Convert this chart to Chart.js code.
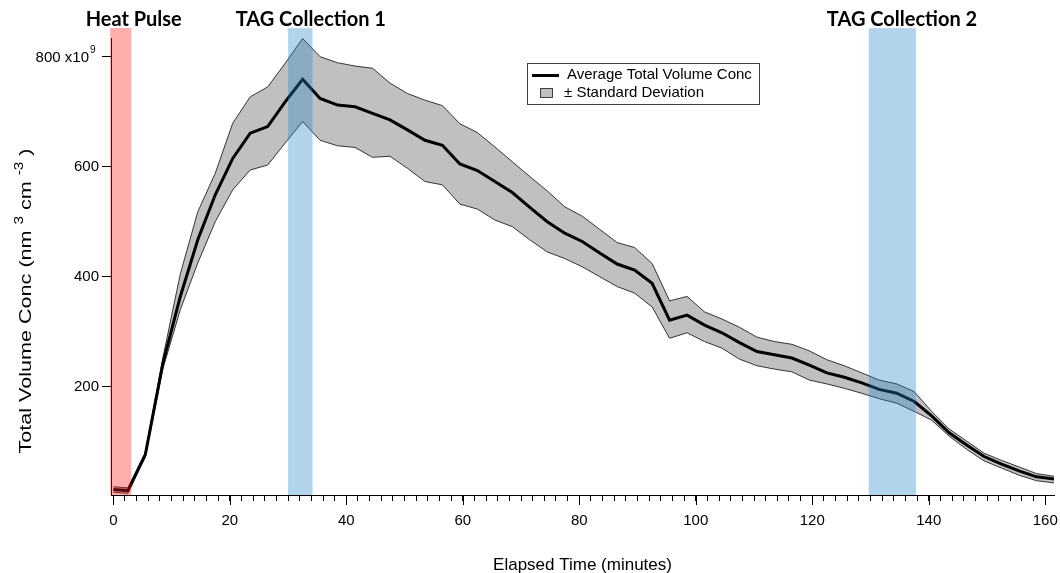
<!DOCTYPE html>
<html>
<head>
<meta charset="utf-8">
<script src="https://cdn.jsdelivr.net/npm/chart.js@4.4.0/dist/chart.umd.min.js"></script>
<style>
    html, body { margin: 0; padding: 0; background: #fff; }
    #chart-wrap { width: 1060px; height: 573px; }
</style>
</head>
<body>
<div id="chart-wrap"><canvas id="volume-chart" width="1060" height="573"></canvas></div>
<script>
// elapsed time of each scan (minutes)
const times = [0, 2.5, 5.5, 8.5, 11.5, 14.5, 17.5, 20.5, 23.5, 26.5, 29.5, 32.5, 35.5, 38.5, 41.5, 44.5, 47.5,
    50.5, 53.5, 56.5, 59.5, 62.5, 65.5, 68.5, 71.5, 74.5, 77.5, 80.5, 83.5, 86.5, 89.5, 92.5, 95.5, 98.5,
    101.5, 104.5, 107.5, 110.5, 113.5, 116.5, 119.5, 122.5, 125.5, 128.5, 131.5, 134.5, 137.5, 140.5,
    143.5, 146.5, 149.5, 152.5, 155.5, 158.5, 161.5];

// total volume conc, x10^9 nm3 cm-3
const meanConc = [13, 11, 77, 242, 364, 467, 549, 615, 661, 673, 718, 759, 724, 712, 709, 697, 685,
    667, 648, 639, 605, 593, 573, 553, 526, 500, 479, 464, 443, 423, 412, 388, 321, 330,
    312, 298, 280, 264, 258, 252, 239, 225, 217, 207, 195, 188, 173, 147,
    116, 94, 73, 59, 47, 36, 32];
const upperConc = [18, 16, 80, 252, 405, 518, 588, 679, 727, 745, 788, 833, 800, 789, 783, 779, 752,
    733, 721, 711, 678, 662, 636, 609, 582, 556, 527, 510, 486, 462, 453, 424, 356, 364,
    336, 323, 308, 290, 282, 277, 265, 249, 238, 225, 212, 205, 191, 155,
    123, 101, 79, 66, 54, 42, 37];
const lowerConc = [8, 6, 72, 232, 340, 425, 500, 558, 594, 603, 643, 682, 648, 638, 635, 617, 619,
    597, 573, 567, 532, 523, 503, 491, 467, 445, 433, 418, 400, 382, 370, 345, 288, 298,
    282, 270, 250, 238, 232, 227, 212, 205, 197, 188, 178, 170, 155, 139,
    110, 86, 65, 52, 39, 29, 25];

const yTickValues = [200, 400, 600, 800];
const xLabelValues = [0, 20, 40, 60, 80, 100, 120, 140, 160];
const xMinorStep = 2;

// shaded periods (minutes)
const periodNames = ["Heat Pulse", "TAG Collection 1", "TAG Collection 2"];
const periodStart = [-0.55, 30.0, 129.7];
const periodEnd = [3.1, 34.2, 137.8];

const FONT = "'Liberation Sans', Arial, sans-serif";
Chart.defaults.font.family = FONT;
Chart.defaults.color = "#000";

const periodColors = ["rgba(255, 20, 20, 0.35)", "rgba(32, 132, 200, 0.35)", "rgba(32, 132, 200, 0.35)"];
const periodLabelX = [3.5, 33.9, 135.4];

function toPoints(values) {
    return times.map((t, i) => ({ x: t, y: values[i] }));
}

const overlayPlugin = {
    id: "overlays",
    afterDatasetsDraw(chart) {
        const ctx = chart.ctx;
        const xs = chart.scales.x, ys = chart.scales.y;
        const top = ys.getPixelForValue(852);
        const bottom = chart.chartArea.bottom;
        ctx.save();
        periodNames.forEach((name, i) => {
            const x0 = xs.getPixelForValue(periodStart[i]);
            const x1 = xs.getPixelForValue(periodEnd[i]);
            ctx.fillStyle = periodColors[i];
            ctx.fillRect(x0, top, x1 - x0, bottom - top);
        });
        ctx.fillStyle = "#000";
        ctx.font = "bold 20px Lato, 'Open Sans', sans-serif";
        ctx.textAlign = "center";
        ctx.textBaseline = "alphabetic";
        periodNames.forEach((name, i) => {
            ctx.fillText(name, xs.getPixelForValue(periodLabelX[i]), 26);
        });
        ctx.restore();
    },
    afterDraw(chart) {
        const ctx = chart.ctx;
        const xs = chart.scales.x, ys = chart.scales.y;
        const area = chart.chartArea;
        ctx.save();

        // longer major ticks on x
        ctx.strokeStyle = "#000";
        ctx.lineWidth = 1;
        xLabelValues.forEach(v => {
            const px = Math.round(xs.getPixelForValue(v)) + 0.5;
            ctx.beginPath();
            ctx.moveTo(px, area.bottom);
            ctx.lineTo(px, area.bottom + 10);
            ctx.stroke();
        });

        // top y label with its exponent
        const y800 = ys.getPixelForValue(800);
        ctx.fillStyle = "#000";
        ctx.font = "15px " + FONT;
        ctx.textAlign = "right";
        ctx.textBaseline = "middle";
        ctx.fillText("800 x10", 89, y800 + 1);
        ctx.font = "10px " + FONT;
        ctx.textAlign = "left";
        ctx.fillText("9", 90, y800 - 6);

        // x axis title
        ctx.font = "17px " + FONT;
        ctx.textAlign = "center";
        ctx.textBaseline = "alphabetic";
        ctx.fillText("Elapsed Time (minutes)", (area.left + area.right) / 2, 570);

        // legend
        ctx.strokeStyle = "#404040";
        ctx.strokeRect(527.5, 63.5, 232, 41);
        ctx.strokeStyle = "#000";
        ctx.lineWidth = 3;
        ctx.beginPath();
        ctx.moveTo(532, 75.5);
        ctx.lineTo(559, 75.5);
        ctx.stroke();
        ctx.fillStyle = "#c0c0c0";
        ctx.fillRect(540, 88, 13, 10);
        ctx.lineWidth = 1;
        ctx.strokeStyle = "#404040";
        ctx.strokeRect(540.5, 88.5, 12, 9);
        ctx.fillStyle = "#000";
        ctx.font = "15px " + FONT;
        ctx.textAlign = "left";
        ctx.textBaseline = "middle";
        ctx.fillText("Average Total Volume Conc", 567, 75);
        ctx.fillText("\u00B1 Standard Deviation", 564, 93);

        // y axis title with superscripts, stretched along its length like the original
        const runs = [
            { t: "Total Volume Conc (nm ", sup: false },
            { t: "3", sup: true },
            { t: " cm ", sup: false },
            { t: "-3", sup: true },
            { t: " )", sup: false }
        ];
        const mainFont = "17px " + FONT, supFont = "12px " + FONT;
        let total = 0;
        runs.forEach(r => {
            ctx.font = r.sup ? supFont : mainFont;
            r.w = ctx.measureText(r.t).width;
            total += r.w;
        });
        ctx.translate(25, 301);
        ctx.rotate(-Math.PI / 2);
        ctx.scale(305 / total, 1);
        ctx.textBaseline = "alphabetic";
        let cx = -total / 2;
        runs.forEach(r => {
            ctx.font = r.sup ? supFont : mainFont;
            ctx.fillText(r.t, cx, r.sup ? -2 : 6);
            cx += r.w;
        });
        ctx.restore();
    }
};

const chart = new Chart(document.getElementById("volume-chart").getContext("2d"), {
    type: "line",
    data: {
        datasets: [
            { label: "Average Total Volume Conc", data: toPoints(meanConc), borderColor: "#000", borderWidth: 3, pointRadius: 0, fill: false, tension: 0, order: 0 },
            { label: "upper", data: toPoints(upperConc), borderColor: "#333", borderWidth: 1, pointRadius: 0, fill: 2, backgroundColor: "#c0c0c0", tension: 0, order: 3 },
            { label: "lower", data: toPoints(lowerConc), borderColor: "#333", borderWidth: 1, pointRadius: 0, fill: false, tension: 0, order: 2 }
        ]
    },
    options: {
        responsive: false,
        animation: false,
        events: [],
        layout: { padding: { top: 38, right: 6, left: 0, bottom: 0 } },
        plugins: { legend: { display: false }, tooltip: { enabled: false } },
        scales: {
            x: {
                type: "linear",
                min: -0.4,
                max: 161.5,
                afterBuildTicks: scale => {
                    const ticks = [];
                    for (let v = 0; v <= 160; v += xMinorStep) ticks.push({ value: v });
                    scale.ticks = ticks;
                },
                afterFit: scale => { scale.height = 78; scale.paddingLeft = 0; scale.paddingRight = 0; },
                border: { color: "#000", width: 1 },
                grid: { drawOnChartArea: false, tickLength: 6, tickColor: "#000" },
                ticks: {
                    autoSkip: false, maxRotation: 0, padding: 11,
                    font: { size: 15 },
                    callback: v => (xLabelValues.includes(v) ? String(v) : "")
                }
            },
            y: {
                min: 3,
                max: 834,
                afterBuildTicks: scale => { scale.ticks = yTickValues.map(v => ({ value: v })); },
                afterFit: scale => { scale.width = 111; },
                border: { color: "#000", width: 1 },
                grid: { drawOnChartArea: false, tickLength: 9, tickColor: "#000" },
                ticks: {
                    padding: 3,
                    font: { size: 15 },
                    callback: v => (v === 800 ? "" : String(v))
                }
            }
        }
    },
    plugins: [overlayPlugin]
});
</script>
</body>
</html>
